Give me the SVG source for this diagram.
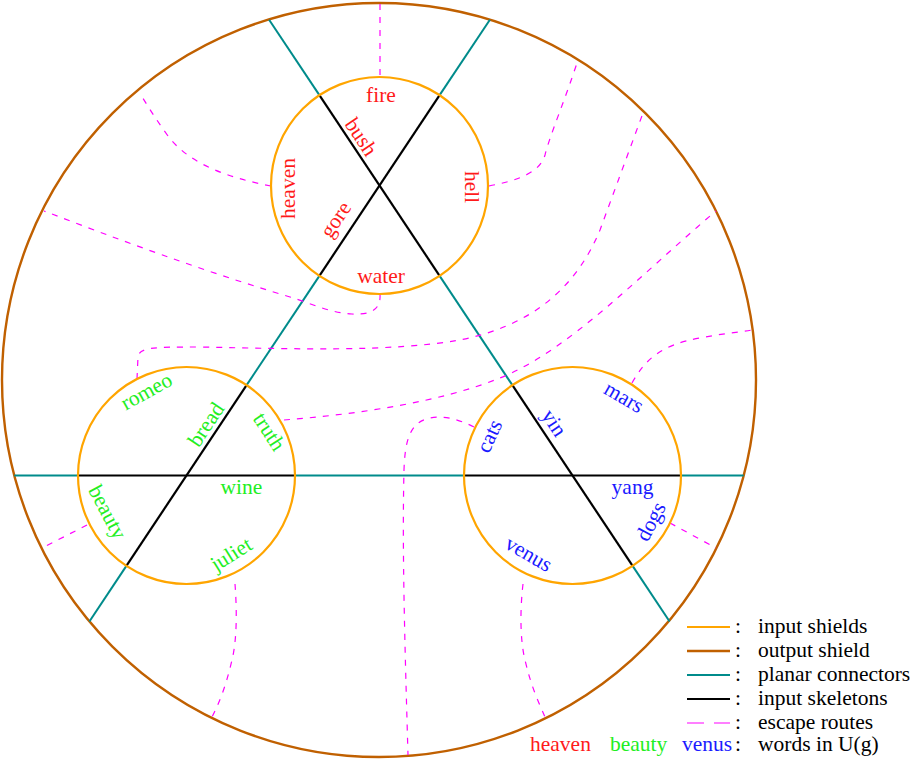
<svg xmlns="http://www.w3.org/2000/svg" width="916" height="759" viewBox="0 0 916 759">
<style>
text{font-family:"Liberation Serif","Times New Roman",serif;font-size:21.5px}
.r{fill:#ff1a1a}.g{fill:#22ee22}.b{fill:#1a1aff}.k{fill:#000}
.mid{text-anchor:middle}
.shield{fill:none;stroke:#ffa500;stroke-width:2.2}
.outer{fill:none;stroke:#c06000;stroke-width:2.4}
.conn{stroke:#008b8b;stroke-width:2;fill:none}
.skel{stroke:#000;stroke-width:2.2;fill:none}
.esc{stroke:#ff00ff;stroke-width:1.2;fill:none;stroke-dasharray:6 7}
</style>
<rect width="916" height="759" fill="#fff"/>
<g id="output-shield"><circle class="outer" cx="379" cy="380" r="377"/></g>
<g id="connectors">
<g class="conn">
<line x1="269.1" y1="19.7" x2="319.39" y2="95.17"/>
<line x1="489.9" y1="19.7" x2="439.61" y2="95.17"/>
<line x1="319.39" y1="275.83" x2="246.61" y2="385.17"/>
<line x1="439.61" y1="275.83" x2="512.39" y2="385.17"/>
<line x1="126.39" y1="565.83" x2="89.4" y2="621.5"/>
<line x1="632.61" y1="565.83" x2="669.6" y2="621.5"/>
<line x1="14.3" y1="475.5" x2="78" y2="475.5"/>
<line x1="295" y1="475.5" x2="464" y2="475.5"/>
<line x1="681" y1="475.5" x2="743.7" y2="475.5"/>
</g>
<g class="esc">
<path d="M380,4 L380,77"/>
<path d="M271,186 C230,178 190,165 168,136 C158,122 150,110 141,95"/>
<path d="M489,186 C520,180 540,172 545,155 C550,135 565,100 578,60"/>
<path d="M380,294 C381,309 372,315 352,314 C330,313 310,303 290,297 C200,270 120,240 44,211"/>
<path d="M137,379 L138,357 C139,347 155,347 200,347 C300,349 390,352 460,340 C530,326 575,290 600,230 L643,113"/>
<path d="M284,420 C360,414 440,402 500,378 C570,350 640,275 716,211"/>
<path d="M474,427 C460,420 445,415 430,418 C410,422 405,440 404,470 C402,550 405,650 408,755"/>
<path d="M632,383 C645,360 660,345 700,338 C720,334 740,332 752,330"/>
<path d="M670,523 L716,548"/>
<path d="M523,584 C520,610 520,640 525,660 C532,690 540,705 545,717"/>
<path d="M235,584 C237,610 237,640 232,660 C225,690 218,705 212,717"/>
<path d="M87,525 L44,547"/>
</g>
</g>
<g id="shield-top">
<line class="skel" x1="319.39" y1="95.17" x2="439.61" y2="275.83"/>
<line class="skel" x1="439.61" y1="95.17" x2="319.39" y2="275.83"/>
<circle class="shield" cx="379.5" cy="185.5" r="108.5"/>
<text class="r mid" x="381" y="102">fire</text>
<text class="r mid" x="381" y="282.5">water</text>
<text class="r mid" transform="translate(295,188.5) rotate(-90)">heaven</text>
<text class="r mid" transform="translate(465,187) rotate(90)">hell</text>
<text class="r mid" transform="translate(355.3,140.8) rotate(56.3)">bush</text>
<text class="r mid" transform="translate(341.5,223.4) rotate(-56.3)">gore</text>
</g>
<g id="shield-left">
<line class="skel" x1="246.61" y1="385.17" x2="126.39" y2="565.83"/>
<line class="skel" x1="78" y1="475.5" x2="295" y2="475.5"/>
<circle class="shield" cx="186.5" cy="475.5" r="108.5"/>
<text class="g mid" transform="translate(149.8,397.5) rotate(-29)">romeo</text>
<text class="g mid" transform="translate(211.9,428.3) rotate(-56.3)">bread</text>
<text class="g mid" transform="translate(263.3,435.4) rotate(57)">truth</text>
<text class="g mid" x="241.3" y="494">wine</text>
<text class="g mid" transform="translate(101.3,515.4) rotate(62)">beauty</text>
<text class="g mid" transform="translate(235,560.1) rotate(-32)">juliet</text>
</g>
<g id="shield-right">
<line class="skel" x1="512.39" y1="385.17" x2="632.61" y2="565.83"/>
<line class="skel" x1="464" y1="475.5" x2="681" y2="475.5"/>
<circle class="shield" cx="572.5" cy="475.5" r="108.5"/>
<text class="b mid" transform="translate(620.5,403.3) rotate(30)">mars</text>
<text class="b mid" transform="translate(548.3,426.7) rotate(56.3)">yin</text>
<text class="b mid" transform="translate(495.8,439) rotate(-65)">cats</text>
<text class="b mid" x="632.5" y="493.5">yang</text>
<text class="b mid" transform="translate(657,524.7) rotate(-62)">dogs</text>
<text class="b mid" transform="translate(525.2,560) rotate(30)">venus</text>
</g>
<g id="legend">
<line x1="687" y1="627" x2="730" y2="627" class="shield"/>
<line x1="687" y1="651" x2="730" y2="651" class="outer"/>
<line x1="687" y1="675" x2="730" y2="675" class="conn"/>
<line x1="687" y1="699" x2="730" y2="699" class="skel"/>
<line x1="687" y1="723" x2="730" y2="723" class="esc" style="stroke-dasharray:17 10"/>
<text class="k" x="735" y="633">:</text>
<text class="k" x="735" y="657">:</text>
<text class="k" x="735" y="681">:</text>
<text class="k" x="735" y="705">:</text>
<text class="k" x="735" y="729">:</text>
<text class="k" x="735" y="751">:</text>
<text class="k" x="758" y="633">input shields</text>
<text class="k" x="758" y="657">output shield</text>
<text class="k" x="758" y="681">planar connectors</text>
<text class="k" x="758" y="705">input skeletons</text>
<text class="k" x="758" y="729">escape routes</text>
<text class="k" x="758" y="751">words in U(g)</text>
<text class="r" x="530" y="751">heaven</text>
<text class="g" x="610" y="751">beauty</text>
<text class="b" x="682" y="751">venus</text>
</g>
</svg>
